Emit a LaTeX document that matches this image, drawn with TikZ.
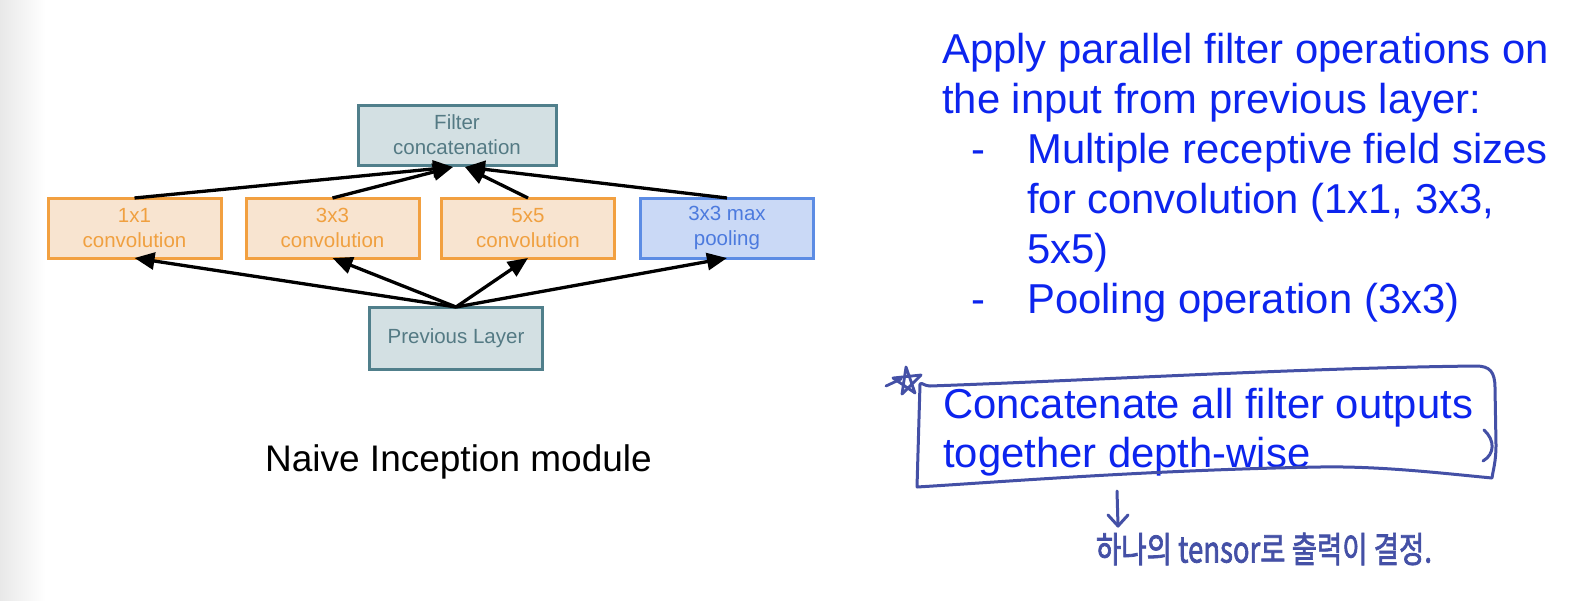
\documentclass[tikz,border=0pt]{standalone}
\usepackage{fontspec}
\setmainfont{Liberation Sans}
\newfontfamily\krfont[BoldFont={Noto Sans CJK KR}, BoldFeatures={FakeBold=2.2}]{Noto Sans CJK KR}
\usetikzlibrary{arrows.meta}
\definecolor{grayfill}{RGB}{211,224,227}
\definecolor{graydraw}{RGB}{80,127,139}
\definecolor{graytext}{RGB}{84,122,132}
\definecolor{orfill}{RGB}{248,228,208}
\definecolor{ordraw}{RGB}{242,160,64}
\definecolor{ortext}{RGB}{240,160,64}
\definecolor{blfill}{RGB}{202,217,246}
\definecolor{bldraw}{RGB}{92,140,228}
\definecolor{bltext}{RGB}{76,122,222}
\definecolor{txtblue}{RGB}{12,36,238}
\definecolor{hand}{RGB}{68,80,166}
\tikzset{
  box/.style={rectangle, line width=3pt, inner sep=0pt, outer sep=0pt,
    minimum width=173pt, minimum height=60pt, align=center,
    font=\fontsize{20.5}{25}\selectfont},
  graybox/.style={box, fill=grayfill, draw=graydraw, text=graytext},
  orbox/.style={box, fill=orfill, draw=ordraw, text=ortext},
  blbox/.style={box, fill=blfill, draw=bldraw, text=bltext},
  arr/.style={line width=3.3pt, -{Triangle[length=20pt,width=17pt]}},
  bigtext/.style={anchor=base west, inner sep=0pt, text=txtblue,
    font=\fontsize{41.8}{50}\selectfont},
  handline/.style={draw=hand, line width=3pt, line cap=round, line join=round}
}
\begin{document}
\begin{tikzpicture}[x=1pt,y=-1pt]
\useasboundingbox (0,0) rectangle (1576,600);
\fill[white] (0,0) rectangle (1576,600);
\shade[left color=black!9, right color=white] (0,0) rectangle (45,600);

% diagram boxes
\node[graybox, minimum width=198pt] (fc) at (457,135) {Filter\\concatenation};
\node[orbox] (c1) at (134.5,228) {1x1\\convolution};
\node[orbox] (c3) at (332.5,228) {3x3\\convolution};
\node[orbox] (c5) at (528,228) {5x5\\convolution};
\node[blbox] (mp) at (727,228) {3x3 max\\pooling};
\node[graybox, minimum height=62pt] (pl) at (456,338) {Previous Layer};

\coordinate (tl) at (453,167);
\coordinate (tr) at (465,167);

\draw[arr] (c1.north) -- (tl);
\draw[arr] (c3.north) -- (tl);
\draw[arr] (c5.north) -- (tr);
\draw[arr] (mp.north) -- (tr);

\draw[arr] (pl.north) -- (c1.south);
\draw[arr] (pl.north) -- (c3.south);
\draw[arr] (pl.north) -- (c5.south);
\draw[arr] (pl.north) -- (mp.south);

\node[anchor=base, inner sep=0pt, font=\fontsize{37}{44}\selectfont] (cap) at (458.5,471) {Naive Inception module};

% right text
\node[bigtext] (r1) at (942,63) {Apply parallel filter operations on};
\node[bigtext] (r2) at (942,113) {the input from previous layer:};
\node[bigtext] (d1) at (971,163) {-};
\node[bigtext] (r3) at (1027,163) {Multiple receptive field sizes};
\node[bigtext] (r4) at (1027,213) {for convolution (1x1, 3x3,};
\node[bigtext] (r5) at (1027,263) {5x5)};
\node[bigtext] (d2) at (971,313) {-};
\node[bigtext] (r6) at (1027,313) {Pooling operation (3x3)};
\node[bigtext] (k1) at (943,418) {Concatenate all filter outputs};
\node[bigtext] (k2) at (943,467) {together depth-wise};

% hand-drawn box
\draw[handline] (917,487) -- (920,384) .. controls (922,382) and (924,386) .. (930,386)
  .. controls (1100,380) and (1300,368) .. (1476,366)
  .. controls (1490,366) and (1495,372) .. (1495,388)
  -- (1496,445) .. controls (1496,462) and (1493,470) .. (1492,478)
  .. controls (1440,473) and (1380,466) .. (1320,467)
  .. controls (1150,470) and (1000,482) .. (917,487);
\draw[handline] (1484,430) .. controls (1495,440) and (1495,454) .. (1483,461);
% star
\draw[handline, line width=2.8pt] (902,394) -- (906,367) -- (915,393) -- (893,378) -- (921,375) -- cycle;
\draw[handline, line width=2.8pt] (886,386) -- (901,379);
% down arrow
\coordinate (da) at (1117,491);
\coordinate (db) at (1118,526);
\draw[handline] (da) -- (db);
\draw[handline] (1108,515) -- (db) -- (1128,515);
\node[anchor=center, inner sep=0pt, text=hand, yscale=1.3, font=\krfont\bfseries\fontsize{27.5}{32}\selectfont] (kr) at (1264,549) {하나의 tensor로 출력이 결정.};
\end{tikzpicture}
\end{document}
